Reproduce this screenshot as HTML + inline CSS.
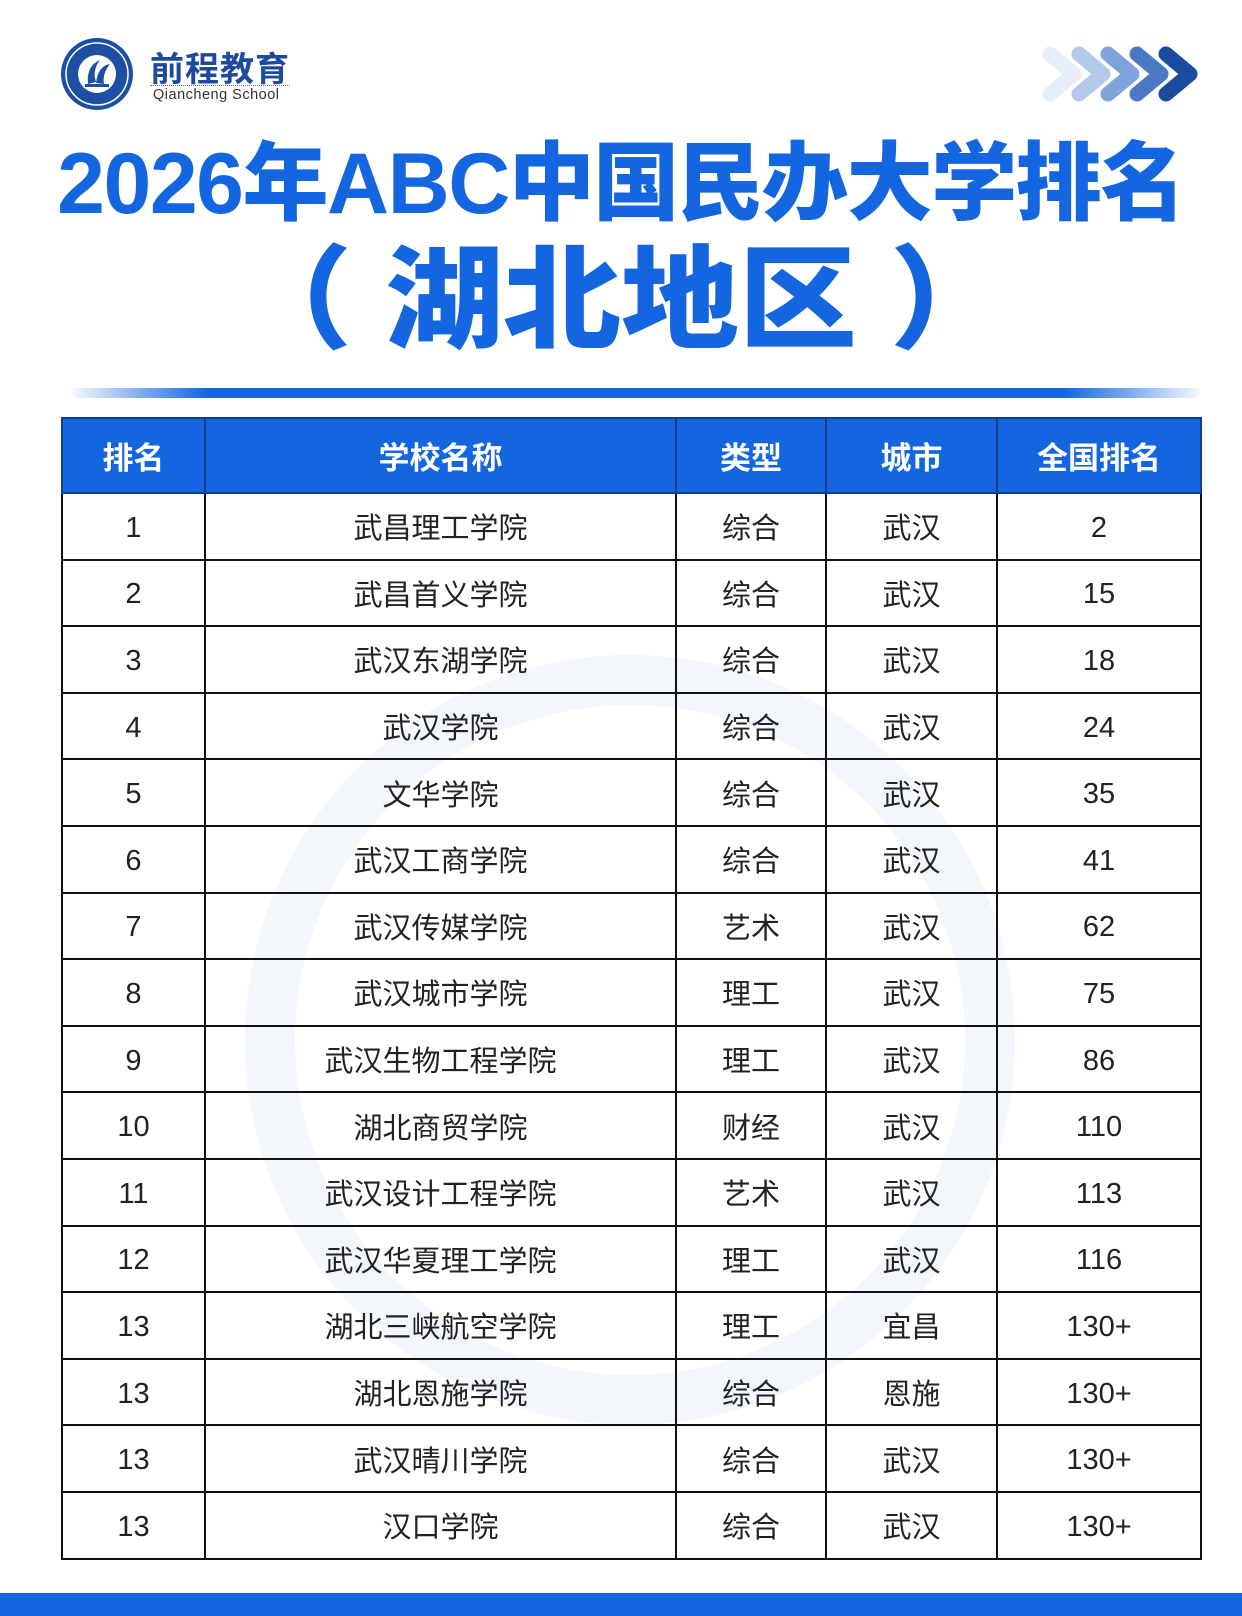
<!DOCTYPE html>
<html><head><meta charset="utf-8"><style>
*{margin:0;padding:0;box-sizing:border-box}
body{width:1242px;height:1616px;background:#fff;position:relative;overflow:hidden;font-family:"Liberation Sans","Noto Sans CJK SC",sans-serif}
.abs{position:absolute}
.t1{left:0;width:1242px;top:136px;text-align:center;color:#1466e0;font-weight:900;font-size:86px;line-height:96px;letter-spacing:-1.5px;white-space:nowrap}
.t2{left:0;width:1242px;top:236px;text-align:center;color:#1466e0;font-weight:900;font-size:118px;line-height:130px;white-space:nowrap;transform:scaleY(0.95)}
.bar{left:72px;top:388px;width:1128px;height:10px;border-radius:5px;background:linear-gradient(90deg,rgba(20,102,224,0.05),#1466e0 12%,#1466e0 88%,rgba(20,102,224,0.05))}
table{position:absolute;left:61px;top:417px;width:1139px;border-collapse:collapse;table-layout:fixed}
td,th{border:2px solid #111;text-align:center;height:66.6px;font-size:29px;color:#222;font-weight:normal}
td span.n{position:relative;top:2px}
th{background:#1466e0;color:#fff;font-weight:bold;height:75px;font-size:31px;border-color:#0d3f8a}
.foot{left:0;top:1593px;width:1242px;height:23px;background:#1466e0}
</style></head><body>
<svg class="abs" style="left:58px;top:36px" width="78" height="76" viewBox="0 0 78 76">
<circle cx="39" cy="38" r="36" fill="#1d4fa3"/><circle cx="39" cy="38" r="31" fill="none" stroke="#fff" stroke-width="1.5"/>
<circle cx="39" cy="38" r="19" fill="#fff"/>
<path d="M30 48 Q28 30 42 24 Q34 34 38 46 Z" fill="#1d4fa3"/><path d="M38 47 Q40 30 52 28 Q44 38 46 48 Z" fill="#1d4fa3"/><rect x="27" y="48" width="24" height="3" fill="#1d4fa3"/>
</svg>
<div class="abs" style="left:150px;top:42px;font-size:34px;font-weight:bold;color:#1d4a9e;letter-spacing:1px">前程教育</div>
<div class="abs" style="left:150px;top:85px;width:140px;border-top:1px dotted #777"></div>
<div class="abs" style="left:153px;top:87px;font-size:14.5px;color:#333;letter-spacing:0.5px">Qiancheng School</div>
<svg class="abs" style="left:1036px;top:42px" width="165" height="64" viewBox="0 0 165 64">
<g fill="none" stroke-width="15" stroke-linecap="round" stroke-linejoin="round">
<path d="M14 12 L38 32 L14 52" stroke="#e6eef9"/>
<path d="M43 12 L67 32 L43 52" stroke="#b3c9ea"/>
<path d="M72 12 L96 32 L72 52" stroke="#7fa3da"/>
<path d="M101 12 L125 32 L101 52" stroke="#4a78c4"/>
<path d="M130 12 L154 32 L130 52" stroke="#1b4b9e"/>
</g></svg>
<div class="abs t1">2026年ABC中国民办大学排名</div>
<div class="abs t2">（&nbsp;湖北地区&nbsp;）</div>
<div class="abs bar"></div>
<svg class="abs" style="left:230px;top:640px" width="800" height="800"><circle cx="400" cy="400" r="360" fill="none" stroke="#f3f6fa" stroke-width="50"/></svg>
<table>
<colgroup><col style="width:143px"><col style="width:471px"><col style="width:150px"><col style="width:171px"><col style="width:204px"></colgroup>
<tr><th>排名</th><th>学校名称</th><th>类型</th><th>城市</th><th>全国排名</th></tr>
<tr><td><span class="n">1</span></td><td>武昌理工学院</td><td>综合</td><td>武汉</td><td><span class="n">2</span></td></tr>
<tr><td><span class="n">2</span></td><td>武昌首义学院</td><td>综合</td><td>武汉</td><td><span class="n">15</span></td></tr>
<tr><td><span class="n">3</span></td><td>武汉东湖学院</td><td>综合</td><td>武汉</td><td><span class="n">18</span></td></tr>
<tr><td><span class="n">4</span></td><td>武汉学院</td><td>综合</td><td>武汉</td><td><span class="n">24</span></td></tr>
<tr><td><span class="n">5</span></td><td>文华学院</td><td>综合</td><td>武汉</td><td><span class="n">35</span></td></tr>
<tr><td><span class="n">6</span></td><td>武汉工商学院</td><td>综合</td><td>武汉</td><td><span class="n">41</span></td></tr>
<tr><td><span class="n">7</span></td><td>武汉传媒学院</td><td>艺术</td><td>武汉</td><td><span class="n">62</span></td></tr>
<tr><td><span class="n">8</span></td><td>武汉城市学院</td><td>理工</td><td>武汉</td><td><span class="n">75</span></td></tr>
<tr><td><span class="n">9</span></td><td>武汉生物工程学院</td><td>理工</td><td>武汉</td><td><span class="n">86</span></td></tr>
<tr><td><span class="n">10</span></td><td>湖北商贸学院</td><td>财经</td><td>武汉</td><td><span class="n">110</span></td></tr>
<tr><td><span class="n">11</span></td><td>武汉设计工程学院</td><td>艺术</td><td>武汉</td><td><span class="n">113</span></td></tr>
<tr><td><span class="n">12</span></td><td>武汉华夏理工学院</td><td>理工</td><td>武汉</td><td><span class="n">116</span></td></tr>
<tr><td><span class="n">13</span></td><td>湖北三峡航空学院</td><td>理工</td><td>宜昌</td><td><span class="n">130+</span></td></tr>
<tr><td><span class="n">13</span></td><td>湖北恩施学院</td><td>综合</td><td>恩施</td><td><span class="n">130+</span></td></tr>
<tr><td><span class="n">13</span></td><td>武汉晴川学院</td><td>综合</td><td>武汉</td><td><span class="n">130+</span></td></tr>
<tr><td><span class="n">13</span></td><td>汉口学院</td><td>综合</td><td>武汉</td><td><span class="n">130+</span></td></tr>
</table>
<div class="abs foot"></div>
</body></html>
